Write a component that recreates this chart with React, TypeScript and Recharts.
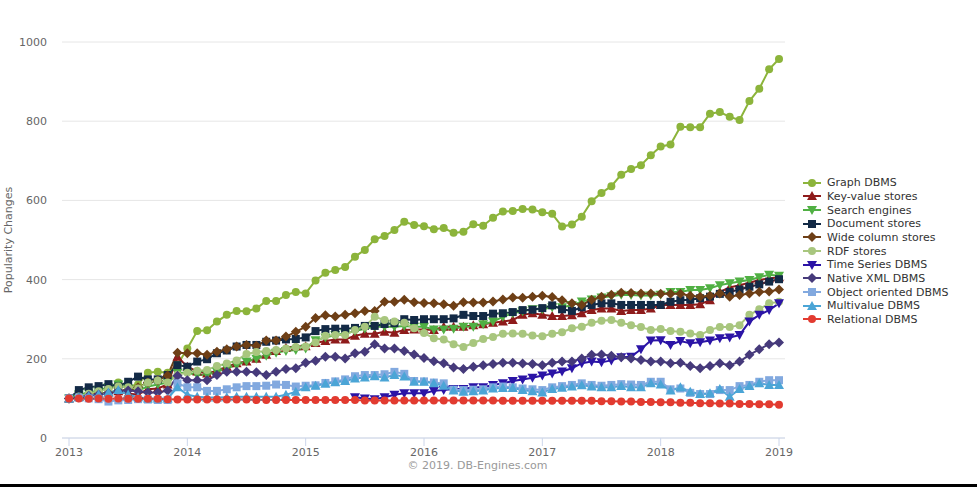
import React from "react";
import { LineChart, Line, XAxis, YAxis, CartesianGrid } from "recharts";

// monthly points, Jan 2013 .. Jan 2019
const START_YEAR = 2013;
const YEAR_TICKS = [2013, 2014, 2015, 2016, 2017, 2018, 2019];
const VALUE_TICKS = [0, 200, 400, 600, 800, 1000];

const graphDbms = [
  100, 106, 112, 118, 125, 140, 130, 135, 165, 167, 165, 185,
  226, 270, 272, 294, 311, 321, 320, 327, 346, 346, 361, 369,
  365, 398, 417, 424, 432, 458, 475, 502, 510, 525, 546, 538,
  535, 527, 530, 518, 521, 540, 536, 556, 572, 573, 578, 577,
  570, 566, 534, 539, 559, 598, 619, 636, 665, 679, 689, 714,
  736, 741, 786, 785, 785, 819, 823, 811, 803, 851, 882, 931,
  957,
];
const keyValue = [
  100, 104, 108, 112, 115, 118, 112, 110, 123, 125, 135, 205,
  180, 168, 163, 170, 180, 189, 193, 200, 210, 220, 228, 232,
  232, 240, 245, 249, 249, 258, 263, 263, 268, 266, 273, 274,
  274, 273, 281, 281, 281, 285, 287, 291, 294, 298, 311, 315,
  311, 308, 308, 310, 315, 323, 327, 327, 321, 323, 323, 327,
  336, 336, 336, 336, 338, 348, 369, 380, 386, 392, 399, 403,
  406,
];
const searchEngines = [
  100, 110, 115, 120, 128, 135, 125, 120, 130, 135, 140, 165,
  165, 159, 160, 167, 176, 184, 193, 200, 208, 215, 220, 222,
  226, 247, 254, 260, 264, 270, 276, 281, 281, 281, 283, 281,
  281, 274, 274, 276, 281, 281, 287, 294, 306, 315, 320, 325,
  325, 330, 330, 335, 345, 350, 355, 358, 362, 361, 360, 360,
  362, 369, 369, 374, 374, 378, 386, 391, 395, 399, 406, 412,
  410,
];
const documentStores = [
  100, 121, 128, 131, 136, 130, 142, 155, 148, 148, 159, 184,
  180, 193, 199, 214, 221, 231, 235, 235, 243, 246, 249, 250,
  254, 270, 275, 276, 276, 278, 283, 283, 288, 290, 300, 298,
  300, 300, 300, 302, 311, 308, 308, 314, 315, 318, 323, 324,
  328, 335, 325, 321, 330, 336, 340, 340, 336, 336, 336, 336,
  336, 344, 348, 349, 353, 357, 364, 369, 375, 382, 388, 395,
  401,
];
const wideColumn = [
  100, 103, 107, 112, 115, 118, 122, 128, 140, 145, 158, 215,
  214, 214, 210, 218, 224, 231, 235, 233, 246, 246, 256, 268,
  281, 303, 310, 307, 311, 315, 321, 321, 344, 344, 349, 343,
  341, 340, 338, 334, 343, 342, 342, 345, 350, 355, 354, 357,
  359, 356, 348, 340, 336, 349, 357, 362, 367, 366, 365, 365,
  364, 364, 364, 359, 357, 359, 365, 357, 361, 365, 369, 370,
  375,
];
const rdfStores = [
  100, 105, 112, 118, 124, 130, 128, 125, 140, 145, 140, 160,
  165, 170, 172, 182, 188, 196, 212, 217, 220, 222, 226, 230,
  231, 241, 258, 260, 260, 273, 281, 306, 298, 294, 291, 277,
  265, 252, 249, 237, 230, 240, 250, 255, 263, 264, 263, 259,
  257, 263, 267, 277, 281, 291, 296, 298, 291, 285, 280, 273,
  275, 270, 268, 264, 260, 273, 280, 280, 285, 311, 325, 340,
  344,
];
// no values before mid 2015
const timeSeries = [
  null, null, null, null, null, null, null, null, null, null, null, null,
  null, null, null, null, null, null, null, null, null, null, null, null,
  null, null, null, null, null, 103, 100, 98, 103, 109, 113, 113,
  113, 119, 121, 124, 124, 128, 128, 134, 138, 144, 148, 152,
  158, 163, 168, 176, 189, 193, 191, 196, 204, 205, 224, 246,
  247, 235, 245, 239, 242, 246, 252, 254, 260, 294, 311, 323,
  340,
];
const nativeXml = [
  100, 103, 107, 110, 113, 118, 120, 118, 115, 115, 120, 157,
  146, 146, 146, 159, 167, 167, 167, 166, 159, 167, 174, 176,
  190, 195, 205, 205, 201, 214, 218, 237, 226, 226, 220, 211,
  202, 194, 189, 178, 174, 180, 184, 187, 190, 190, 188, 187,
  184, 190, 193, 193, 201, 210, 211, 208, 204, 201, 197, 193,
  193, 189, 190, 182, 176, 182, 189, 184, 193, 210, 224, 237,
  241,
];
const objectOriented = [
  100, 102, 100, 98, 92, 95, 96, 98, 97, 96, 96, 138,
  128, 128, 119, 119, 123, 128, 131, 131, 132, 135, 134, 130,
  132, 133, 139, 143, 148, 156, 159, 159, 161, 167, 162, 144,
  143, 140, 138, 122, 121, 122, 123, 128, 130, 128, 125, 123,
  121, 128, 131, 134, 138, 134, 132, 134, 136, 135, 134, 142,
  142, 123, 125, 114, 111, 111, 121, 121, 131, 134, 142, 146,
  146,
];
const multivalue = [
  100, 103, 106, 110, 115, 121, 110, 103, 100, 100, 100, 128,
  109, 104, 102, 102, 103, 104, 104, 104, 104, 104, 109, 117,
  128, 132, 137, 141, 144, 150, 153, 156, 153, 159, 155, 142,
  142, 138, 132, 120, 117, 118, 120, 125, 126, 126, 121, 118,
  115, 124, 127, 130, 133, 130, 128, 128, 131, 128, 128, 138,
  135, 120, 128, 117, 111, 113, 124, 104, 124, 131, 138, 134,
  134,
];
const relational = [
  100, 100, 99, 100, 99, 100, 99, 99, 99, 99, 98, 97,
  97, 97, 97, 97, 97, 97, 97, 96, 96, 96, 96, 96,
  96, 96, 96, 96, 96, 96, 95, 95, 95, 95, 95, 95,
  95, 95, 95, 95, 95, 95, 95, 95, 94, 94, 94, 94,
  94, 94, 94, 94, 94, 94, 93, 93, 92, 92, 91, 91,
  90, 90, 89, 89, 88, 88, 87, 87, 86, 86, 85, 85,
  84,
];

type Shape = "circle" | "square" | "diamond" | "triangle" | "triangle-down";

const SERIES: { key: string; name: string; color: string; shape: Shape; values: (number | null)[] }[] = [
  { key: "graph", name: "Graph DBMS", color: "#8cb43b", shape: "circle", values: graphDbms },
  { key: "kv", name: "Key-value stores", color: "#8e1b1b", shape: "triangle", values: keyValue },
  { key: "search", name: "Search engines", color: "#50b043", shape: "triangle-down", values: searchEngines },
  { key: "doc", name: "Document stores", color: "#132a46", shape: "square", values: documentStores },
  { key: "wide", name: "Wide column stores", color: "#6e3f16", shape: "diamond", values: wideColumn },
  { key: "rdf", name: "RDF stores", color: "#a8c67e", shape: "circle", values: rdfStores },
  { key: "ts", name: "Time Series DBMS", color: "#2b14a6", shape: "triangle-down", values: timeSeries },
  { key: "xml", name: "Native XML DBMS", color: "#463a7b", shape: "diamond", values: nativeXml },
  { key: "oo", name: "Object oriented DBMS", color: "#82a9df", shape: "square", values: objectOriented },
  { key: "mv", name: "Multivalue DBMS", color: "#4ba5d6", shape: "triangle", values: multivalue },
  { key: "rel", name: "Relational DBMS", color: "#e23b30", shape: "circle", values: relational },
];

const rows = graphDbms.map((_, i) => {
  const row: Record<string, number | null> = { t: START_YEAR + i / 12 };
  SERIES.forEach((s) => (row[s.key] = s.values[i]));
  return row;
});

function markerPath(shape: Shape, cx: number, cy: number, r: number) {
  switch (shape) {
    case "square":
      return `M${cx - r},${cy - r}H${cx + r}V${cy + r}H${cx - r}Z`;
    case "diamond":
      return `M${cx},${cy - r - 1}L${cx + r + 1},${cy}L${cx},${cy + r + 1}L${cx - r - 1},${cy}Z`;
    case "triangle":
      return `M${cx},${cy - r - 1}L${cx + r + 1},${cy + r}L${cx - r - 1},${cy + r}Z`;
    case "triangle-down":
      return `M${cx - r - 1},${cy - r}L${cx + r + 1},${cy - r}L${cx},${cy + r + 1}Z`;
    default:
      return `M${cx - r},${cy}a${r},${r} 0 1,0 ${2 * r},0a${r},${r} 0 1,0 ${-2 * r},0`;
  }
}

function Marker({ shape, color, cx, cy, r = 4 }: { shape: Shape; color: string; cx: number; cy: number; r?: number }) {
  return <path d={markerPath(shape, cx, cy, r)} fill={color} />;
}

const FONT = "'DejaVu Sans', sans-serif";

export default function App() {
  return (
    <div style={{ position: "absolute", left: 0, top: 0, width: 977, height: 487, background: "#fff", fontFamily: FONT }}>
      <LineChart width={977} height={487} data={rows} margin={{ top: 42, right: 192, bottom: 19, left: 0 }}>
        <CartesianGrid horizontal vertical={false} stroke="#e6e6e6" />
        <XAxis
          dataKey="t"
          type="number"
          domain={[2012.9408, 2019.0507]}
          ticks={YEAR_TICKS}
          allowDataOverflow
          height={30}
          stroke="#ccd6eb"
          tickSize={8}
          tickMargin={2}
          tick={{ fill: "#666", fontSize: 11, fontFamily: FONT }}
        />
        <YAxis
          type="number"
          domain={[0, 1000]}
          ticks={VALUE_TICKS}
          width={62}
          axisLine={false}
          tickLine={false}
          tickSize={0}
          tickMargin={15}
          tick={{ fill: "#666", fontSize: 11, fontFamily: FONT }}
        />
        {SERIES.map((s) => (
          <Line
            key={s.key}
            dataKey={s.key}
            name={s.name}
            stroke={s.color}
            strokeWidth={2}
            isAnimationActive={false}
            connectNulls={false}
            activeDot={false}
            dot={(p: any) =>
              p.value == null || p.cx == null || p.cy == null ? (
                <g key={`${s.key}-${p.index}`} />
              ) : (
                <Marker key={`${s.key}-${p.index}`} shape={s.shape} color={s.color} cx={p.cx} cy={p.cy} />
              )
            }
          />
        ))}
      </LineChart>

      <div
        style={{
          position: "absolute",
          left: 8,
          top: 240,
          transform: "translate(-50%, -50%) rotate(-90deg)",
          color: "#666",
          fontSize: 11,
          whiteSpace: "nowrap",
        }}
      >
        Popularity Changes
      </div>

      <div style={{ position: "absolute", left: 0, width: 955, top: 459, textAlign: "center", color: "#999", fontSize: 11 }}>
        © 2019. DB-Engines.com
      </div>

      <div style={{ position: "absolute", left: 802, top: 176 }}>
        {SERIES.map((s) => (
          <div key={s.key} style={{ display: "flex", alignItems: "center", height: 13.67, fontSize: 11, color: "#333" }}>
            <svg width={22} height={12} style={{ marginRight: 3 }}>
              <line x1={1} y1={6} x2={19} y2={6} stroke={s.color} strokeWidth={2} />
              <Marker shape={s.shape} color={s.color} cx={10} cy={6} />
            </svg>
            <span>{s.name}</span>
          </div>
        ))}
      </div>

      <div style={{ position: "absolute", left: 0, top: 484, width: 977, height: 3, background: "#000" }} />
    </div>
  );
}
